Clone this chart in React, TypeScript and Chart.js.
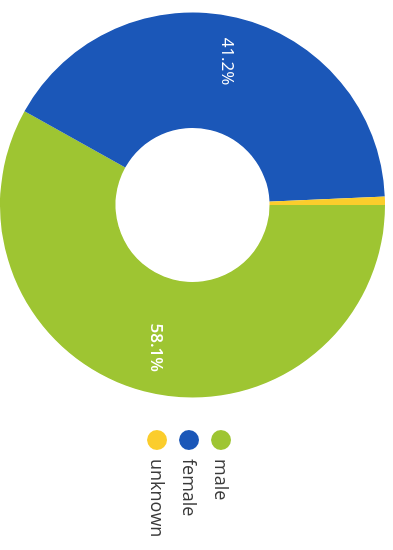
import React, { useEffect, useRef } from "react";
import { Chart, registerables } from "chart.js";

Chart.register(...registerables);

const categories = ["male", "female", "unknown"];
const shares = [58.1, 41.2, 0.7];
const percentLabels = ["58.1%", "41.2%", ""];
const colors = ["#9ec532", "#1b57b8", "#fbcd2c"];

const FONT = "'Open Sans', 'Noto Sans', sans-serif";

const sliceLabelPlugin = {
  id: "sliceLabels",
  afterDatasetsDraw(chart: any) {
    const ctx = chart.ctx;
    const meta = chart.getDatasetMeta(0);
    ctx.save();
    ctx.fillStyle = "#ffffff";
    ctx.textAlign = "center";
    ctx.textBaseline = "middle";
    meta.data.forEach((arc: any, i: number) => {
      const text = percentLabels[i];
      if (!text) return;
      ctx.font = `${i === 0 ? "600 " : ""}17px ${FONT}`;
      const p = arc.getProps(["x", "y", "startAngle", "endAngle", "innerRadius", "outerRadius"], true);
      const mid = (p.startAngle + p.endAngle) / 2;
      const r = p.innerRadius + (p.outerRadius - p.innerRadius) * 0.61;
      ctx.fillText(text, p.x + Math.cos(mid) * r, p.y + Math.sin(mid) * r);
    });
    ctx.restore();
  },
};

const legendPlugin = {
  id: "sideLegend",
  afterDraw(chart: any) {
    const ctx = chart.ctx;
    const cy = (chart.chartArea.top + chart.chartArea.bottom) / 2 + 3.5;
    const gap = 32;
    const x0 = chart.chartArea.right + 25;
    ctx.save();
    ctx.font = `18px ${FONT}`;
    ctx.textBaseline = "middle";
    ctx.textAlign = "left";
    categories.forEach((name, i) => {
      const y = cy + (i - 1) * gap;
      ctx.fillStyle = colors[i];
      ctx.beginPath();
      ctx.arc(x0 + 5, y, 10, 0, Math.PI * 2);
      ctx.fill();
      ctx.fillStyle = "#3a3a3a";
      ctx.fillText(name, x0 + 24, y + 1);
    });
    ctx.restore();
  },
};

export default function App() {
  const ref = useRef<HTMLCanvasElement | null>(null);
  useEffect(() => {
    if (!ref.current) return;
    const chart = new Chart(ref.current, {
      type: "doughnut",
      data: {
        labels: categories,
        datasets: [
          {
            data: shares,
            backgroundColor: colors,
            borderWidth: 0,
          },
        ],
      },
      options: {
        responsive: false,
        maintainAspectRatio: false,
        animation: false,
        cutout: "40%",
        layout: { padding: { top: 8, bottom: 0, left: 0, right: 140 } },
        plugins: {
          legend: { display: false },
          tooltip: { enabled: false },
        },
      },
      plugins: [sliceLabelPlugin, legendPlugin],
    });
    return () => chart.destroy();
  }, []);

  return (
    <div
      style={{
        position: "fixed",
        left: 0,
        top: 0,
        width: 393,
        height: 550,
        overflow: "hidden",
        background: "#ffffff",
      }}
    >
      <div
        style={{
          position: "absolute",
          left: 393,
          top: 0,
          width: 550,
          height: 393,
          transformOrigin: "0 0",
          transform: "rotate(90deg)",
        }}
      >
        <canvas ref={ref} width={550} height={393} style={{ display: "block" }} />
      </div>
    </div>
  );
}
